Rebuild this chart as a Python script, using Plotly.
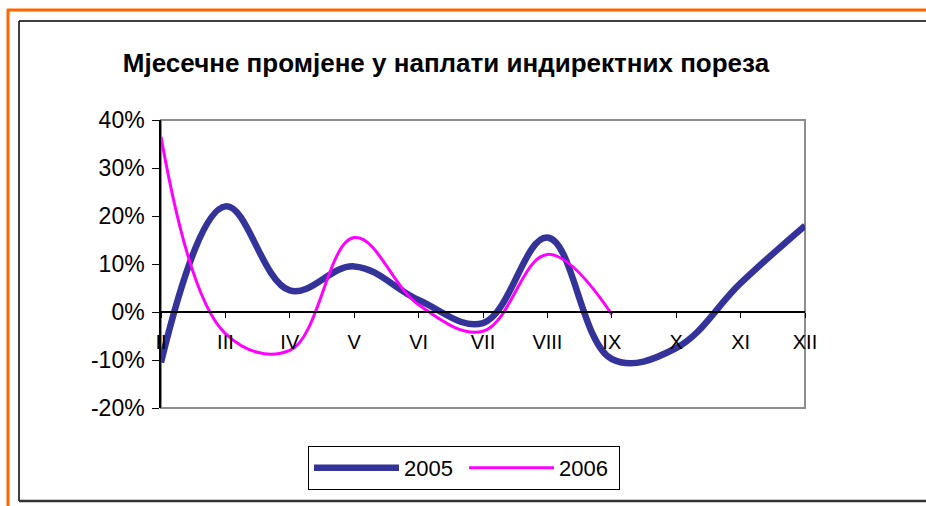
import plotly.graph_objects as go

# ---------------- data ----------------
months = ["II", "III", "IV", "V", "VI", "VII", "VIII", "IX", "X", "XI", "XII"]
values_2005 = [-10.5, 22.0, 4.5, 9.5, 2.5, -2.3, 15.5, -9.8, -7.5, 6.0, 18.0]
values_2006 = [36.5, -4.5, -8.0, 15.5, 1.5, -4.0, 12.0, -0.5]
y_tick_values = [-20, -10, 0, 10, 20, 30, 40]
y_tick_labels = ["-20%", "-10%", "0%", "10%", "20%", "30%", "40%"]
title_text = "Мјесечне промјене у наплати индиректних пореза"

# ---------------- layout geometry (pixels) ----------------
W, H = 926, 506
PL, PR, PT, PB = 161, 805, 120, 408  # plot area
FONT = "Arial, Liberation Sans, sans-serif"


def px_x(p):
    return (p - PL) / (PR - PL)


def px_y(p):
    return (PB - p) / (PB - PT)


x_idx = list(range(len(months)))

fig = go.Figure()
fig.add_trace(go.Scatter(
    x=x_idx[:len(values_2005)], y=values_2005, name="2005", mode="lines",
    line=dict(color="#333399", width=6.5, shape="spline", smoothing=1.1),
))
fig.add_trace(go.Scatter(
    x=x_idx[:len(values_2006)], y=values_2006, name="2006", mode="lines",
    line=dict(color="#FF00FF", width=3, shape="spline", smoothing=1.1),
))

y_min, y_max = y_tick_values[0], y_tick_values[-1]
zero_pos = (0 - y_min) / (y_max - y_min)

shapes = [
    # plot area gray border
    dict(type="rect", xref="paper", yref="paper", x0=0, x1=1, y0=0, y1=1,
         line=dict(color="#8c8c8c", width=2), layer="below"),
    # orange outer frame (top + left)
    dict(type="line", xref="paper", yref="paper", x0=px_x(7), x1=px_x(930),
         y0=px_y(10), y1=px_y(10), line=dict(color="#FF6600", width=3)),
    dict(type="line", xref="paper", yref="paper", x0=px_x(8), x1=px_x(8),
         y0=px_y(9), y1=px_y(510), line=dict(color="#FF6600", width=3)),
    # black inner frame
    dict(type="line", xref="paper", yref="paper", x0=px_x(19), x1=px_x(930),
         y0=px_y(21), y1=px_y(21), line=dict(color="#000000", width=1.5)),
    dict(type="line", xref="paper", yref="paper", x0=px_x(19), x1=px_x(19),
         y0=px_y(21), y1=px_y(501), line=dict(color="#000000", width=1.5)),
    dict(type="line", xref="paper", yref="paper", x0=px_x(19), x1=px_x(930),
         y0=px_y(501), y1=px_y(501), line=dict(color="#333333", width=2.5)),
]

fig.update_layout(
    width=W, height=H,
    margin=dict(l=PL, r=W - PR, t=PT, b=H - PB),
    paper_bgcolor="white", plot_bgcolor="white",
    font=dict(family=FONT, color="black"),
    title=dict(text="<b>" + title_text + "</b>", x=446 / W, xanchor="center",
               y=1 - 63 / H, yanchor="middle", xref="container", yref="container",
               font=dict(size=26, family=FONT, color="black")),
    xaxis=dict(
        range=[0, len(months) - 1], tickvals=x_idx, ticktext=months,
        anchor="free", position=zero_pos,
        showline=True, linecolor="black", linewidth=1.5,
        ticks="outside", ticklen=5, tickcolor="black", tickwidth=1,
        ticklabelstandoff=7,
        showgrid=False, zeroline=False,
        tickfont=dict(size=20, family=FONT, color="black"),
    ),
    yaxis=dict(
        range=[y_min, y_max], tickvals=y_tick_values, ticktext=y_tick_labels,
        showline=True, linecolor="black", linewidth=1.5,
        ticks="outside", ticklen=7, tickcolor="black", tickwidth=1,
        ticklabelstandoff=3,
        showgrid=False, zeroline=False,
        tickfont=dict(size=23, family=FONT, color="black"),
    ),
    showlegend=True,
    legend=dict(
        orientation="h", x=px_x(464), xanchor="center", y=px_y(468), yanchor="middle",
        bordercolor="black", borderwidth=1, bgcolor="white",
        font=dict(size=22, family=FONT, color="black"),
        entrywidth=55, entrywidthmode="pixels", itemwidth=85,
    ),
    shapes=shapes,
)

fig.write_html(
    "out.html",
    config={"displayModeBar": False},
    post_script="document.body.style.margin='0';document.body.style.overflow='hidden';",
)
